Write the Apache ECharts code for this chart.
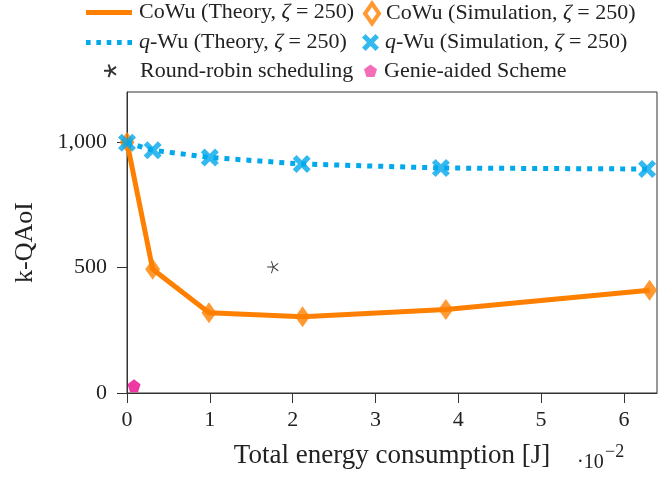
<!DOCTYPE html>
<html>
<head>
<meta charset="utf-8">
<script src="https://cdn.jsdelivr.net/npm/echarts@6/dist/echarts.min.js"></script>
<style>html,body{margin:0;padding:0;background:#fff}#c{width:670px;height:477px}</style>
</head>
<body>
<div id="c"></div>
<script>
// ---- data ----
const cowuX = [0, 0.31, 0.99, 2.12, 3.85, 6.31];
const cowuY = [1000, 493, 320, 304, 333, 410];
const qwuX = [0, 0.31, 1.0, 2.11, 3.79, 6.28];
const qwuY = [998, 968, 939, 913, 897, 893];
const roundRobin = [[1.76, 502]];
const genie = [[0.085, 29]];
const xTicks = [0, 1, 2, 3, 4, 5, 6];
const yTicks = [0, 500, 1000];
const names = {
  ct: 'CoWu (Theory, ζ = 250)',
  cs: 'CoWu (Simulation, ζ = 250)',
  qt: 'q-Wu (Theory, ζ = 250)',
  qs: 'q-Wu (Simulation, ζ = 250)',
  rr: 'Round-robin scheduling',
  ga: 'Genie-aided Scheme'
};
const richNames = {};
richNames[names.ct] = 'CoWu (Theory, {i|ζ} = 250)';
richNames[names.cs] = 'CoWu (Simulation, {i|ζ} = 250)';
richNames[names.qt] = '{i|q}-Wu (Theory, {i|ζ} = 250)';
richNames[names.qs] = '{i|q}-Wu (Simulation, {i|ζ} = 250)';
richNames[names.rr] = 'Round-robin scheduling';
richNames[names.ga] = 'Genie-aided Scheme';

const pair = (xs, ys) => xs.map((x, i) => [x, ys[i]]);

const FONT = "'Liberation Serif','DejaVu Serif','Times New Roman',serif";
const ORANGE = '#ff8000';
const CYAN = '#00a8ec';
const MAGENTA = '#e8088a';
const XPATH = 'path://M0,2.1L2.1,0L5,2.9L7.9,0L10,2.1L7.1,5L10,7.9L7.9,10L5,7.1L2.1,10L0,7.9L2.9,5Z';
const STAR = 'path://M0,0L-1,0M0,0L-0.309,-0.951M0,0L0.809,-0.588M0,0L0.809,0.588M0,0L-0.309,0.951';
const PENT = 'path://M0,-1L0.951,-0.309L0.588,0.809L-0.588,0.809L-0.951,-0.309Z';
const DOTS = 'path://M0,0h4.6v5h-4.6zM10.35,0h4.6v5h-4.6zM20.7,0h4.6v5h-4.6zM31.05,0h4.6v5h-4.6zM41.4,0h4.6v5h-4.6z';

function leg(name, left, centerY, iw, ih, padLeft, extra) {
  return Object.assign({
    data: [name], left: left, top: centerY - 11, padding: 0,
    itemWidth: iw, itemHeight: ih, selectedMode: false,
    formatter: n => richNames[n],
    textStyle: {
      fontFamily: FONT, fontSize: 22, color: '#222', lineHeight: 22,
      padding: [0, 0, 0, padLeft],
      rich: { i: { fontFamily: FONT, fontSize: 22, fontStyle: 'italic', color: '#222', lineHeight: 22 } }
    }
  }, extra || {});
}

const chart = echarts.init(document.getElementById('c'), null, {renderer: 'canvas'});
chart.setOption({
  animation: false,
  backgroundColor: '#fff',
  grid: { left: 127, right: 13, top: 92, bottom: 84, show: true, borderColor: '#333', borderWidth: 1, backgroundColor: 'transparent' },
  legend: [
    leg(names.ct, 86, 12.5, 46, 5, 2, { icon: 'rect', itemStyle: { color: ORANGE, borderWidth: 0 } }),
    leg(names.cs, 363, 12.5, 14, 20, 2, { itemStyle: { color: '#fff', borderColor: ORANGE, borderWidth: 4 } }),
    leg(names.qt, 86, 42.5, 46, 5, 2, { icon: DOTS, itemStyle: { color: CYAN, borderWidth: 0 } }),
    leg(names.qs, 362, 42.5, 17, 17, 1),
    leg(names.rr, 103, 70.8, 12, 13, 19),
    leg(names.ga, 364, 70.8, 13, 13, 2, { itemStyle: { color: '#ef4aa6' } })
  ],
  xAxis: {
    type: 'value', min: 0, max: 6.4,
    axisLine: { show: true, lineStyle: { color: '#333', width: 1 } },
    axisTick: { show: true, customValues: xTicks, length: 10, inside: false, lineStyle: { color: '#333', width: 1 } },
    axisLabel: { customValues: xTicks, margin: 16, fontFamily: FONT, fontSize: 22, color: '#222' },
    splitLine: { show: false },
    name: 'Total energy consumption [J]', nameLocation: 'middle', nameGap: 49,
    nameTextStyle: { fontFamily: FONT, fontSize: 27, color: '#222' }
  },
  yAxis: {
    type: 'value', min: 0, max: 1200,
    axisLine: { show: true, lineStyle: { color: '#333', width: 1 } },
    axisTick: { show: true, customValues: yTicks, length: 10, inside: false, lineStyle: { color: '#333', width: 1 } },
    axisLabel: { customValues: yTicks, margin: 20, fontFamily: FONT, fontSize: 22, color: '#222',
      formatter: v => v.toLocaleString('en-US') },
    splitLine: { show: false },
    name: 'k-QAoI', nameLocation: 'middle', nameGap: 89,
    nameTextStyle: { fontFamily: FONT, fontSize: 26, color: '#222' }
  },
  series: [
    { name: names.cs, type: 'scatter', z: 2, data: pair(cowuX, cowuY),
      symbol: 'diamond', symbolSize: [15, 21],
      itemStyle: { color: ORANGE, borderColor: ORANGE, borderWidth: 0 } },
    { name: names.ct, type: 'line', z: 3, data: pair(cowuX, cowuY), symbol: 'none',
      lineStyle: { color: ORANGE, width: 5 }, itemStyle: { color: ORANGE } },
    { name: names.qt, type: 'line', z: 4, data: pair(qwuX, qwuY), symbol: 'none',
      lineStyle: { color: CYAN, width: 5, type: [5, 6], cap: 'butt' }, itemStyle: { color: CYAN } },
    { name: names.qs, type: 'scatter', z: 5, data: pair(qwuX, qwuY),
      symbol: XPATH, symbolSize: 18, itemStyle: { color: CYAN } },
    { name: names.rr, type: 'scatter', z: 5, data: roundRobin,
      symbol: STAR, symbolSize: [11, 12],
      itemStyle: { color: 'rgba(0,0,0,0)', borderColor: '#000', borderWidth: 1 } },
    { name: names.ga, type: 'scatter', z: 5, data: genie,
      symbol: PENT, symbolSize: 13, itemStyle: { color: MAGENTA } }
  ],
  graphic: [
    { type: 'text', left: 577, top: 453, style: { text: '·10', font: "20px " + FONT, fill: '#222' } },
    { type: 'text', left: 605, top: 443, style: { text: '−2', font: "18px " + FONT, fill: '#222' } }
  ]
});
</script>
</body>
</html>
